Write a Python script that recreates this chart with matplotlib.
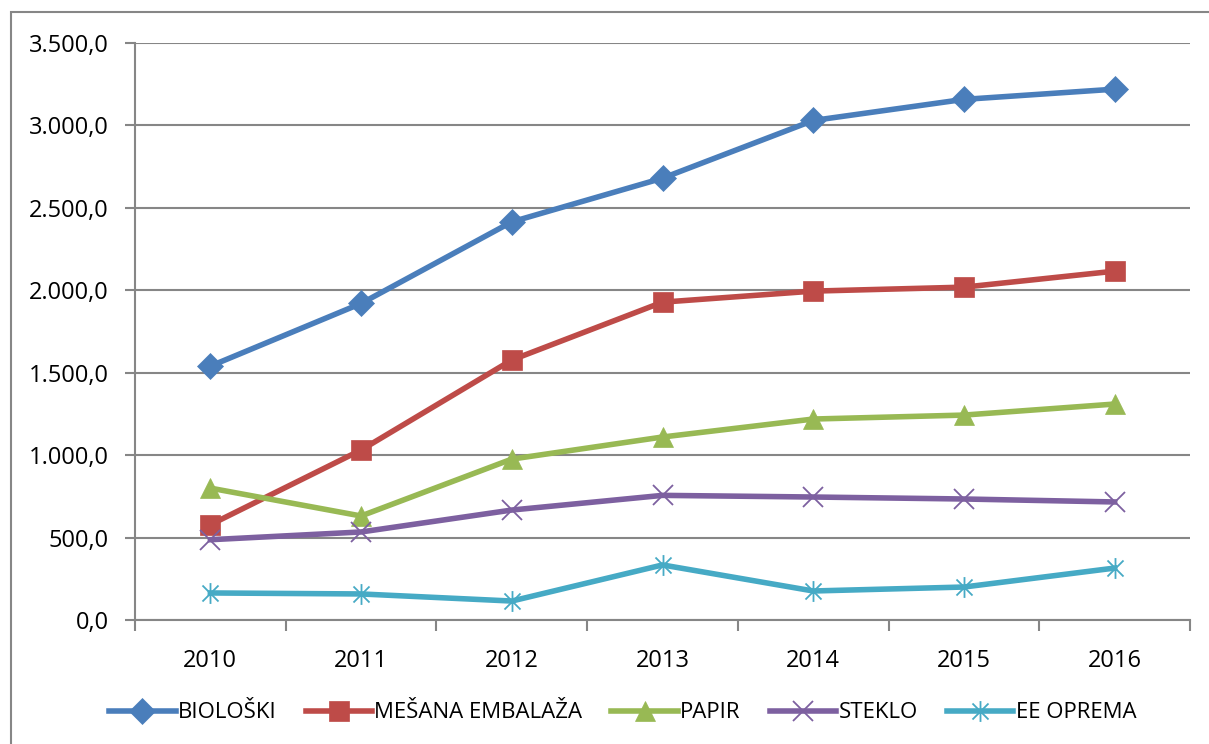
import matplotlib.pyplot as plt
from matplotlib.patches import Rectangle
from matplotlib.path import Path
from matplotlib.ticker import FuncFormatter, FixedLocator

plt.rcParams['font.family'] = ['Open Sans', 'DejaVu Sans']

# podaci
godine = ['2010', '2011', '2012', '2013', '2014', '2015', '2016']
bioloski = [1540, 1920, 2415, 2680, 3030, 3158, 3220]
mesana = [578, 1031, 1577, 1928, 1995, 2019, 2116]
papir = [800, 631, 976, 1110, 1219, 1243, 1310]
steklo = [487, 534, 667, 756, 746, 734, 716]
ee_oprema = [164, 158, 115, 334, 176, 200, 315]

# zvjezdica kao u Excelu: X + okomita crta
zvjezdica = Path([(-1, -1), (1, 1), (-1, 1), (1, -1), (0, -1.3), (0, 1.3)],
                 [Path.MOVETO, Path.LINETO, Path.MOVETO, Path.LINETO, Path.MOVETO, Path.LINETO])

serije = [
    ('BIOLOŠKI', bioloski, '#4A7EBB', 'D', 13),
    ('MEŠANA EMBALAŽA', mesana, '#BE4B48', 's', 14),
    ('PAPIR', papir, '#98B954', '^', 15),
    ('STEKLO', steklo, '#7D60A0', 'x', 14),
    ('EE OPREMA', ee_oprema, '#46AAC5', zvjezdica, 15),
]

fig = plt.figure(figsize=(12.09, 7.44), dpi=100)
ax = fig.add_axes([135 / 1209, 1 - 620 / 744, (1190 - 135) / 1209, (620 - 43) / 744])

# okvir oko cijelog grafikona
fig.patches.append(Rectangle((11 / 1209, -0.1), 1.2, 1 - 12 / 744 + 0.1,
                             transform=fig.transFigure, fill=False,
                             edgecolor='#868686', linewidth=1.5))

x = list(range(len(godine)))
for naziv, vrijednosti, boja, marker, ms in serije:
    tanki = marker in ('x',) or isinstance(marker, Path)
    ax.plot(x, vrijednosti, color=boja, linewidth=4, marker=marker,
            markersize=ms, markeredgewidth=1.3 if tanki else 0.5,
            markeredgecolor=boja, label=naziv)

ax.set_xlim(-0.5, 6.5)
ax.set_ylim(0, 3500)
ax.set_yticks(range(0, 3501, 500))
ax.yaxis.set_major_formatter(FuncFormatter(
    lambda v, p: f'{v:,.1f}'.replace(',', 'X').replace('.', ',').replace('X', '.')))
ax.set_xticks(x)
ax.set_xticklabels(godine)
ax.xaxis.set_minor_locator(FixedLocator([i - 0.5 for i in range(len(godine) + 1)]))
ax.tick_params(axis='x', which='major', length=0, pad=21, labelsize=17)
ax.tick_params(axis='x', which='minor', length=8, color='#868686', width=1.5)
ax.tick_params(axis='y', length=7, color='#868686', width=1.5, labelsize=17, pad=12)

ax.grid(axis='y', color='#868686', linewidth=1.5)
ax.set_axisbelow(True)
for s in ('top', 'right'):
    ax.spines[s].set_visible(False)
for s in ('left', 'bottom'):
    ax.spines[s].set_color('#868686')
    ax.spines[s].set_linewidth(1.5)

fig.legend(loc='center', bbox_to_anchor=(0.515, 1 - 713 / 744), ncol=5, frameon=False,
           fontsize=16, handlelength=3.0, handletextpad=0.1, columnspacing=1.3)

fig.savefig('out.png', dpi=100)
